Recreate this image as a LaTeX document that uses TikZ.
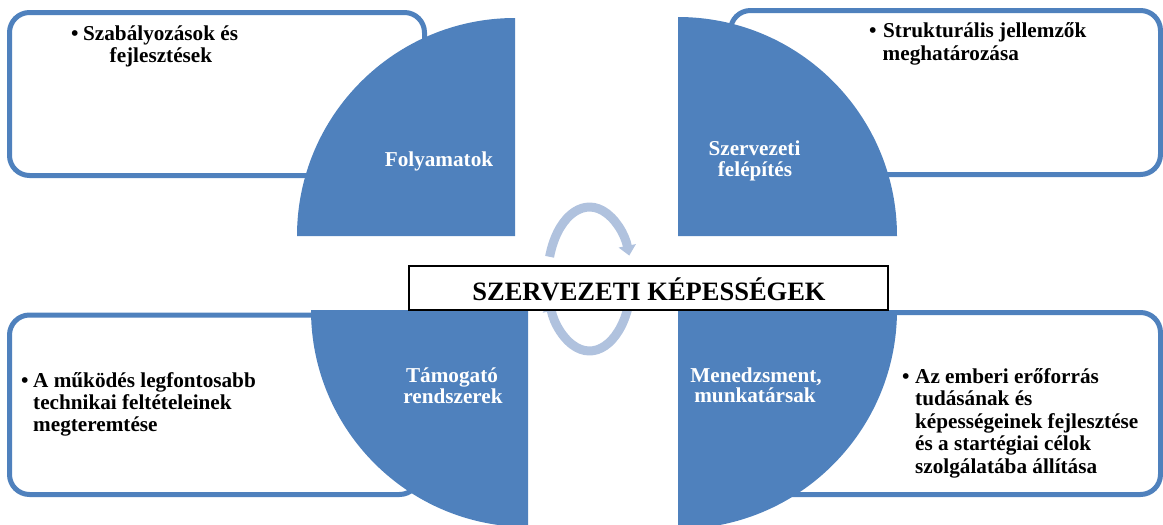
\documentclass[tikz,border=0pt]{standalone}
\usepackage{fontspec}
\setmainfont{Liberation Serif}
\usetikzlibrary{arrows.meta}
\definecolor{pieblue}{HTML}{4F81BD}
\definecolor{cyclearrow}{HTML}{B0C2DE}
\newcommand\bulletmark[1]{\makebox[#1][l]{•}}
\begin{document}
\begin{tikzpicture}[x=1pt,y=-1pt,
  infobox/.style={draw=pieblue,line width=5pt,fill=white,rounded corners=20pt,inner sep=0pt},
  quarter/.style={fill=pieblue},
  pielabel/.style={text=white,font=\fontsize{21.2}{22}\selectfont\bfseries,inner sep=0pt,anchor=base},
  bodyline/.style={text=black,font=\fontsize{21.2}{22}\selectfont\bfseries,inner sep=0pt,anchor=base west},
  cyc/.style={draw=cyclearrow,line width=9pt,-{Triangle[width=17pt,length=10pt]}},
  titlebox/.style={draw=black,line width=2pt,fill=white,inner sep=0pt}]
\useasboundingbox (0,0) rectangle (1163,525);

% text boxes behind the quarter circles
\node[infobox,minimum width=415pt,minimum height=163pt] (boxTL) at (217,94) {};
\node[infobox,minimum width=430pt,minimum height=164pt] (boxTR) at (945.5,92.5) {};
\node[infobox,minimum width=410pt,minimum height=179.5pt] (boxBL) at (214.5,404.75) {};
\node[infobox,minimum width=423.5pt,minimum height=182pt] (boxBR) at (948.75,403.5) {};

% four quarter circles
\fill[quarter] (515,236) -- (297,236) arc[start angle=180,end angle=270,radius=218] -- cycle;
\fill[quarter] (678,236) -- (678,17) arc[start angle=270,end angle=360,radius=219] -- cycle;
\fill[quarter] (528,310) -- (528,527) arc[start angle=90,end angle=180,radius=217] -- cycle;
\fill[quarter] (678,310) -- (897,310) arc[start angle=0,end angle=90,radius=219] -- cycle;

% quarter labels
\node[pielabel] (fol) at (439,166) {Folyamatok};
\node[pielabel] (sz1) at (754.5,155) {Szervezeti};
\node[pielabel] (sz2) at (755,176) {felépítés};
\node[pielabel] (tam1) at (452,382) {Támogató};
\node[pielabel] (tam2) at (453,403) {rendszerek};
\node[pielabel] (men1) at (756,382) {Menedzsment,};
\node[pielabel] (men2) at (755,402) {munkatársak};

% bullet texts
\node[bodyline] (tl1) at (71,40) {\bulletmark{12pt}Szabályozások és};
\node[bodyline] (tl2) at (109.5,62) {fejlesztések};

\node[bodyline] (tr1) at (869,37) {\bulletmark{14pt}Strukturális jellemzők};
\node[bodyline] (tr2) at (882.5,60) {meghatározása};

\node[bodyline] (bl1) at (21,387.5) {\bulletmark{12pt}A működés legfontosabb};
\node[bodyline] (bl2) at (33,409.5) {technikai feltételeinek};
\node[bodyline] (bl3) at (33,431) {megteremtése};

\node[bodyline] (br1) at (902,383) {\bulletmark{13pt}Az emberi erőforrás};
\node[bodyline] (br2) at (915,405.5) {tudásának és};
\node[bodyline] (br3) at (915,428) {képességeinek fejlesztése};
\node[bodyline] (br4) at (915,450.5) {és a startégiai célok};
\node[bodyline] (br5) at (915,473) {szolgálatába állítása};

% cycle arrows in the middle
\coordinate (cyccenter) at (589.5,279);
\draw[cyc] (549.6,256.8) arc[start angle=198,end angle=341,x radius=42,y radius=72];
\draw[cyc] (629.4,301.2) arc[start angle=18,end angle=162,x radius=42,y radius=72];

% title
\node[titlebox,minimum width=479pt,minimum height=44pt] (title) at (648.5,288) {};
\node[text=black,font=\fontsize{26.5}{28}\selectfont\bfseries,inner sep=0pt,anchor=base] (titletext) at (649,300) {SZERVEZETI KÉPESSÉGEK};
\end{tikzpicture}
\end{document}
